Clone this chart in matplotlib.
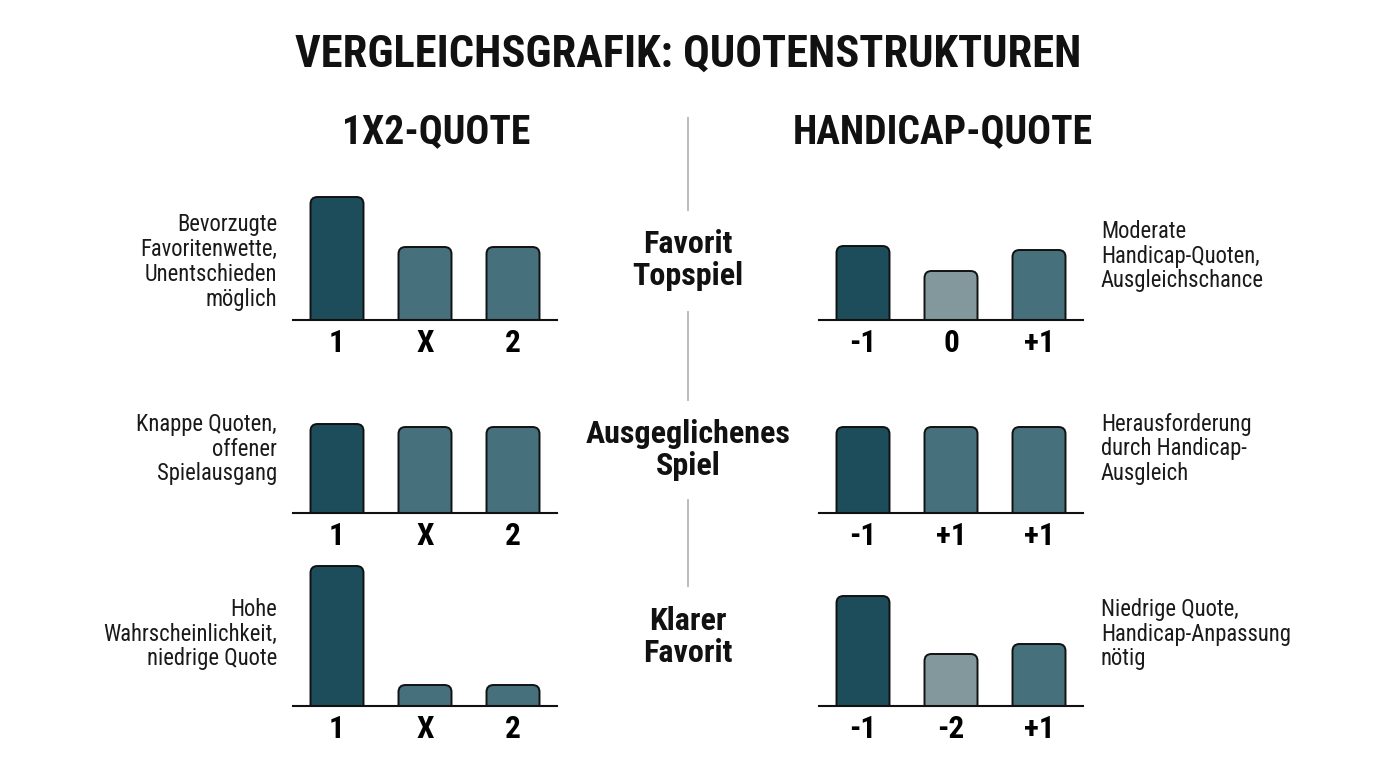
import matplotlib
matplotlib.use("Agg")
import matplotlib.pyplot as plt
from matplotlib import font_manager
from matplotlib.patches import FancyBboxPatch

# pick a narrow font if there is one
names = {f.name for f in font_manager.fontManager.ttflist}
font = "Roboto"
for cand in ["Roboto Condensed", "Liberation Sans Narrow", "Roboto"]:
    if cand in names:
        font = cand
        break
plt.rcParams["font.family"] = [font, "DejaVu Sans"]

DARK = "#1d4d5b"
MID = "#46707c"
GRAY = "#83989d"

# data
title = "VERGLEICHSGRAFIK: QUOTENSTRUKTUREN"
left_title = "1X2-QUOTE"
right_title = "HANDICAP-QUOTE"
scenarios = ["Favorit\nTopspiel", "Ausgeglichenes\nSpiel", "Klarer\nFavorit"]

left_labels = [["1", "X", "2"], ["1", "X", "2"], ["1", "X", "2"]]
left_values = [[123, 73, 73], [89, 86, 86], [140, 21, 21]]
left_colors = [[DARK, MID, MID], [DARK, MID, MID], [DARK, MID, MID]]
left_notes = [
    "Bevorzugte\nFavoritenwette,\nUnentschieden\nmöglich",
    "Knappe Quoten,\noffener\nSpielausgang",
    "Hohe\nWahrscheinlichkeit,\nniedrige Quote",
]

right_labels = [["-1", "0", "+1"], ["-1", "+1", "+1"], ["-1", "-2", "+1"]]
right_values = [[74, 49, 70], [86, 86, 86], [110, 52, 62]]
right_colors = [[DARK, GRAY, MID], [DARK, MID, MID], [DARK, GRAY, MID]]
right_notes = [
    "Moderate\nHandicap-Quoten,\nAusgleichschance",
    "Herausforderung\ndurch Handicap-\nAusgleich",
    "Niedrige Quote,\nHandicap-Anpassung\nnötig",
]

W, H = 1376, 768
fig = plt.figure(figsize=(W / 100, H / 100), dpi=100)
fig.patch.set_facecolor("white")

YMAX = 150
baselines = [320, 513, 706]
ax_w = 264
ax_h = 150


def draw_bars(ax, labels, values, colors):
    ax.set_xlim(-0.5, 2.5)
    ax.set_ylim(0, YMAX)
    # data units per pixel
    xu = 3.0 / ax_w
    yu = YMAX / ax_h
    r = 7 * xu
    for i, (v, c) in enumerate(zip(values, colors)):
        bw = 53 * xu
        p = FancyBboxPatch((i - bw / 2, -20), bw, v + 20,
                           boxstyle=f"round,pad=0,rounding_size={r}",
                           mutation_aspect=yu / xu,
                           facecolor=c, edgecolor="#111111", linewidth=1.4,
                           clip_on=True)
        ax.add_patch(p)
    ax.set_xticks(range(len(labels)))
    ax.set_xticklabels(labels, fontsize=22.5, fontweight="bold")
    ax.tick_params(axis="x", length=0, pad=6)
    ax.set_yticks([])
    for s in ["top", "left", "right"]:
        ax.spines[s].set_visible(False)
    ax.spines["bottom"].set_linewidth(1.5)
    ax.spines["bottom"].set_color("#111111")
    ax.set_facecolor("none")


for row in range(3):
    b = baselines[row]
    bottom = (H - b) / H
    axl = fig.add_axes([293 / W, bottom, ax_w / W, ax_h / H])
    draw_bars(axl, left_labels[row], left_values[row], left_colors[row])
    axr = fig.add_axes([819 / W, bottom, ax_w / W, ax_h / H])
    draw_bars(axr, right_labels[row], right_values[row], right_colors[row])

# texts
fig.text(688 / W, 1 - 55 / H, title, ha="center", va="center",
         fontsize=32, fontweight="bold", color="#111111")
fig.text(436 / W, 1 - 132 / H, left_title, ha="center", va="center",
         fontsize=28.5, fontweight="bold", color="#111111")
fig.text(943 / W, 1 - 132 / H, right_title, ha="center", va="center",
         fontsize=28.5, fontweight="bold", color="#111111")

scen_y = [260, 450, 637]
for s, y in zip(scenarios, scen_y):
    fig.text(688 / W, 1 - y / H, s, ha="center", va="center",
             fontsize=23, fontweight="bold", color="#111111", linespacing=1.05)

left_note_y = [262, 449, 634]
right_note_y = [256, 449, 634]
for n, y in zip(left_notes, left_note_y):
    fig.text(277 / W, 1 - y / H, n, ha="right", va="center",
             fontsize=16.3, color="#1a1a1a", linespacing=1.1)
for n, y in zip(right_notes, right_note_y):
    fig.text(1101 / W, 1 - y / H, n, ha="left", va="center",
             fontsize=16.3, color="#1a1a1a", linespacing=1.1)

# vertical separators
for y0, y1 in [(118, 210), (312, 400), (500, 586)]:
    fig.add_artist(plt.Line2D([688 / W, 688 / W], [1 - y0 / H, 1 - y1 / H],
                              color="#b5b5b5", linewidth=1.3))

fig.savefig("out.png", dpi=100, facecolor="white")
